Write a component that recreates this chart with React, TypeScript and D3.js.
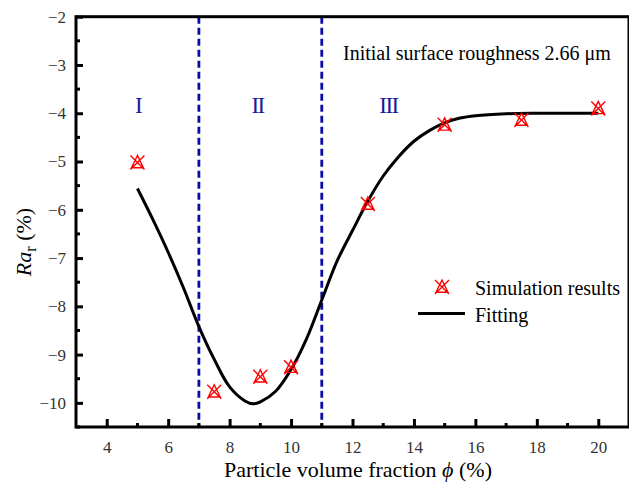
import React, { useEffect, useRef } from 'react'
import * as d3 from 'd3'

// simulation points
const simX = [5, 7.5, 9, 10, 12.5, 15, 17.5, 20]
const simY = [-5.02, -9.77, -9.46, -9.26, -5.88, -4.24, -4.14, -3.9]

// fitting curve
const fitX = [5, 5.5, 6, 6.5, 7, 7.5, 8, 8.5, 8.77, 9, 9.5, 10, 10.5, 11, 11.5, 12, 12.5, 13, 13.5, 14, 14.5, 15, 15.5, 16, 17, 18, 19, 20]
const fitY = [-5.56, -6.2, -6.88, -7.62, -8.42, -9.1, -9.67, -9.96, -10.02, -9.98, -9.76, -9.31, -8.68, -7.87, -7.06, -6.43, -5.82, -5.3, -4.9, -4.58, -4.36, -4.2, -4.1, -4.05, -4.01, -4.0, -4.0, -4.0]

const regionX = [7, 11]
const regionLabels = ['I', 'II', 'III']
const regionLabelX = [5.02, 8.91, 13.17]

const xTicks = [4, 6, 8, 10, 12, 14, 16, 18, 20]
const yTicks = [-10, -9, -8, -7, -6, -5, -4, -3, -2]

const W = 629
const H = 482
const serif = 'Liberation Serif'

const markerPath = (s: number) =>
  `M${-s},${-s}L${s},${s}M${-s},${s}L${s},${-s}` +
  `M0,${-s}L${-s * 0.85},${s * 0.75}L${s * 0.85},${s * 0.75}Z`

const App = () => {
  const ref = useRef<SVGSVGElement>(null)

  useEffect(() => {
    const svg = d3.select(ref.current)
    svg.selectAll('*').remove()
    svg.attr('font-family', serif)

    const left = 76
    const right = 629
    const top = 16.7
    const bottom = 427

    const x = d3.scaleLinear().domain([3, 21]).range([left, right])
    const y = d3.scaleLinear().domain([-10.5, -2]).range([bottom, top])

    // region dividers
    svg
      .selectAll('line.div')
      .data(regionX)
      .enter()
      .append('line')
      .attr('x1', d => x(d))
      .attr('x2', d => x(d))
      .attr('y1', top)
      .attr('y2', bottom)
      .attr('stroke', '#0b0ba6')
      .attr('stroke-width', 2.8)
      .attr('stroke-dasharray', '7,4')

    svg
      .selectAll('text.region')
      .data(regionLabels)
      .enter()
      .append('text')
      .attr('x', (d, i) => x(regionLabelX[i]))
      .attr('y', y(-4))
      .attr('text-anchor', 'middle')
      .attr('fill', '#1a1a9c')
      .attr('font-size', 23)
      .attr('letter-spacing', -1.6)
      .text(d => d)

    // fitting line
    const line = d3
      .line<number>()
      .x((d, i) => x(fitX[i]))
      .y(d => y(d))
      .curve(d3.curveCatmullRom.alpha(0.5))
    svg
      .append('path')
      .attr('d', line(fitY))
      .attr('fill', 'none')
      .attr('stroke', '#000')
      .attr('stroke-width', 3)

    // simulation markers
    svg
      .selectAll('path.sim')
      .data(simY)
      .enter()
      .append('path')
      .attr('transform', (d, i) => `translate(${x(simX[i])},${y(d)})`)
      .attr('d', markerPath(7))
      .attr('fill', 'none')
      .attr('stroke', '#ff0000')
      .attr('stroke-width', 1.4)

    // axes (ticks point inward)
    const xAxis = d3.axisBottom(x).tickValues(xTicks).tickSize(-8).tickPadding(14).tickFormat(d3.format('d'))
    const gx = svg.append('g').attr('transform', `translate(0,${bottom})`).call(xAxis)
    const yAxis = d3.axisLeft(y).tickValues(yTicks).tickSize(-7).tickPadding(10).tickFormat(d3.format('d'))
    const gy = svg.append('g').attr('transform', `translate(${left},0)`).call(yAxis)

    for (const g of [gx, gy]) {
      g.attr('font-family', serif).attr('font-size', 17)
      g.select('.domain').remove()
      g.selectAll('line').attr('stroke-width', 3)
      g.selectAll('text').attr('fill', '#333')
    }

    // minor ticks
    svg
      .selectAll('line.xminor')
      .data(d3.range(5, 21, 2))
      .enter()
      .append('line')
      .attr('x1', d => x(d))
      .attr('x2', d => x(d))
      .attr('y1', bottom)
      .attr('y2', bottom - 4)
      .attr('stroke', '#000')
      .attr('stroke-width', 3)
    svg
      .selectAll('line.yminor')
      .data(d3.range(-10.5, -2, 1))
      .enter()
      .append('line')
      .attr('x1', left)
      .attr('x2', left + 4)
      .attr('y1', d => y(d))
      .attr('y2', d => y(d))
      .attr('stroke', '#000')
      .attr('stroke-width', 3)

    // frame
    svg
      .append('rect')
      .attr('x', left)
      .attr('y', top)
      .attr('width', right - left)
      .attr('height', bottom - top)
      .attr('fill', 'none')
      .attr('stroke', '#000')
      .attr('stroke-width', 3)

    // annotation
    svg
      .append('text')
      .attr('x', 343)
      .attr('y', 60)
      .attr('font-size', 20)
      .text('Initial surface roughness 2.66 μm')

    // legend
    const legend = svg.append('g')
    legend
      .append('path')
      .attr('transform', 'translate(442,287)')
      .attr('d', markerPath(7))
      .attr('fill', 'none')
      .attr('stroke', '#ff0000')
      .attr('stroke-width', 1.4)
    legend
      .append('line')
      .attr('x1', 418)
      .attr('x2', 465)
      .attr('y1', 313.5)
      .attr('y2', 313.5)
      .attr('stroke', '#000')
      .attr('stroke-width', 3)
    legend
      .selectAll('text')
      .data(['Simulation results', 'Fitting'])
      .enter()
      .append('text')
      .attr('x', 475)
      .attr('y', (d, i) => 295 + i * 27)
      .attr('font-size', 20)
      .text(d => d)

    // x axis label
    const xl = svg
      .append('text')
      .attr('x', 358)
      .attr('y', 477)
      .attr('text-anchor', 'middle')
      .attr('font-size', 22)
    xl.append('tspan').text('Particle volume fraction ')
    xl.append('tspan').attr('font-style', 'italic').text('ϕ')
    xl.append('tspan').text(' (%)')

    // y axis label
    const yl = svg
      .append('text')
      .attr('transform', `translate(31,242) rotate(-90)`)
      .attr('text-anchor', 'middle')
      .attr('font-size', 22)
    yl.append('tspan').attr('font-style', 'italic').text('Ra')
    yl.append('tspan').attr('dy', 5).attr('font-size', 16).text('r')
    yl.append('tspan').attr('dy', -5).text(' (%)')
  }, [])

  return (
    <svg
      ref={ref}
      width={W}
      height={H}
      style={{ position: 'absolute', left: 0, top: 0, background: '#fff' }}
    />
  )
}

export default App
